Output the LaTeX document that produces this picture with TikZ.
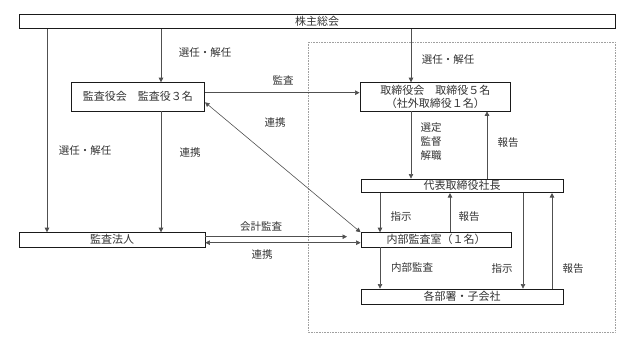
\documentclass[tikz,border=0pt]{standalone}
\usepackage{fontspec}
\setmainfont{Noto Sans CJK JP}
\usetikzlibrary{arrows.meta}
\definecolor{govLine}{HTML}{505050}
\definecolor{govFrame}{HTML}{1A1A1A}
\definecolor{govGroup}{HTML}{A0A0A0}
\definecolor{govText}{HTML}{333333}
\tikzset{
  govfig/.style={
    x=1pt, y=-1pt,
    every node/.append style={font=\fontsize{10.5}{12}\selectfont, text=govText},
    >={Triangle[length=4.5pt,width=4.5pt]},
  },
  orgbox/.style={
    draw=govFrame, line width=0.8pt, fill=white, inner sep=0pt,
    align=center, font=\fontsize{11}{12.5}\selectfont,
  },
  lbl/.style={inner sep=1pt, align=center},
  conn/.style={draw=govLine, line width=0.6pt, ->},
  dconn/.style={draw=govLine, line width=0.6pt, <->},
  % Gruppe um Vorstand und interne Stellen: grau gepunktet.
  group/.style={draw=govGroup, densely dotted, line width=0.6pt},
}
\begin{document}
\begin{tikzpicture}[govfig]
  \useasboundingbox (0,0) rectangle (640,347);
  \draw[group] (308,42) rectangle (615,332);
  \node[orgbox, minimum width=596pt, minimum height=14pt] (Sokai) at (317,21.7) {株主総会};
  \node[orgbox, minimum width=133.7pt, minimum height=28.3pt] (Kansayakukai) at (137.8,96.8) {監査役会　監査役３名};
  \node[orgbox, minimum width=150.7pt, minimum height=28.3pt] (Torishimariyakukai) at (435.3,96.8) {取締役会　取締役５名\\（社外取締役１名）};
  \node[orgbox, minimum width=202pt, minimum height=13.7pt] (Shacho) at (462,185.8) {代表取締役社長};
  \node[orgbox, minimum width=150pt, minimum height=14.3pt] (Naibukansa) at (436,239.8) {内部監査室（１名）};
  \node[orgbox, minimum width=186pt, minimum height=14.3pt] (Kansahojin) at (112,239.8) {監査法人};
  \node[orgbox, minimum width=202pt, minimum height=15pt] (Kakubusho) at (462,296.5) {各部署・子会社};
  \coordinate (xHojin) at (47,0);
  \coordinate (xKansa) at (161,0);
  \coordinate (xBoard) at (411,0);
  \coordinate (xReport) at (487,0);
  \coordinate (xOrder) at (380,0);
  \coordinate (xBack) at (450,0);
  \coordinate (xDept) at (523,0);
  \coordinate (xDeptBack) at (552,0);
  \coordinate (yAudit) at (0,92.7);
  \coordinate (yKaikei) at (0,236.7);
  \coordinate (yRenkei) at (0,242.7);
  \coordinate (KaikeiEnd) at (347,236.7);
  \node[lbl] (SenninA) at (205,53) {選任・解任};
  \node[lbl] (SenninB) at (85,151) {選任・解任};
  \node[lbl] (SenninC) at (448,60) {選任・解任};
  \node[lbl] (RenkeiA) at (190,153) {連携};
  \node[lbl] (KansaLbl) at (283,80) {監査};
  \node[lbl] (RenkeiB) at (275,123) {連携};
  \node[lbl, font=\fontsize{10.5}{14}\selectfont] (Sentei) at (431,142) {選定\\監督\\解職};
  \node[lbl] (HokokuA) at (508,143) {報告};
  \node[lbl] (ShijiA) at (401,217) {指示};
  \node[lbl] (HokokuB) at (469,217) {報告};
  \node[lbl] (NaibuLbl) at (412,268) {内部監査};
  \node[lbl] (ShijiB) at (502,269) {指示};
  \node[lbl] (HokokuC) at (573,269) {報告};
  \node[lbl] (KaikeiLbl) at (261,227) {会計監査};
  \node[lbl] (RenkeiC) at (262,255) {連携};
  \draw[conn] (Sokai.south -| xHojin) -- (Kansahojin.north -| xHojin);
  \draw[conn] (Sokai.south -| xKansa) -- (Kansayakukai.north -| xKansa);
  \draw[conn] (Sokai.south -| xBoard) -- (Torishimariyakukai.north -| xBoard);
  \draw[conn] (Kansayakukai.south -| xKansa) -- (Kansahojin.north -| xKansa);
  \draw[conn] (Kansayakukai.east |- yAudit) -- (Torishimariyakukai.west |- yAudit);
  \draw[dconn] ([yshift=-5.5pt]Kansayakukai.east) -- (Naibukansa.north west);
  \draw[conn] (Torishimariyakukai.south -| xBoard) -- (Shacho.north -| xBoard);
  \draw[conn] (Shacho.north -| xReport) -- (Torishimariyakukai.south -| xReport);
  \draw[conn] (Shacho.south -| xOrder) -- (Naibukansa.north -| xOrder);
  \draw[conn] (Naibukansa.north -| xBack) -- (Shacho.south -| xBack);
  \draw[conn] (Shacho.south -| xDept) -- (Kakubusho.north -| xDept);
  \draw[conn] (Kakubusho.north -| xDeptBack) -- (Shacho.south -| xDeptBack);
  \draw[conn] (Naibukansa.south -| xOrder) -- (Kakubusho.north -| xOrder);
  \draw[conn] (Kansahojin.east |- yKaikei) -- (KaikeiEnd);
  \draw[dconn] (Kansahojin.east |- yRenkei) -- (Naibukansa.west |- yRenkei);
\end{tikzpicture}
\end{document}
